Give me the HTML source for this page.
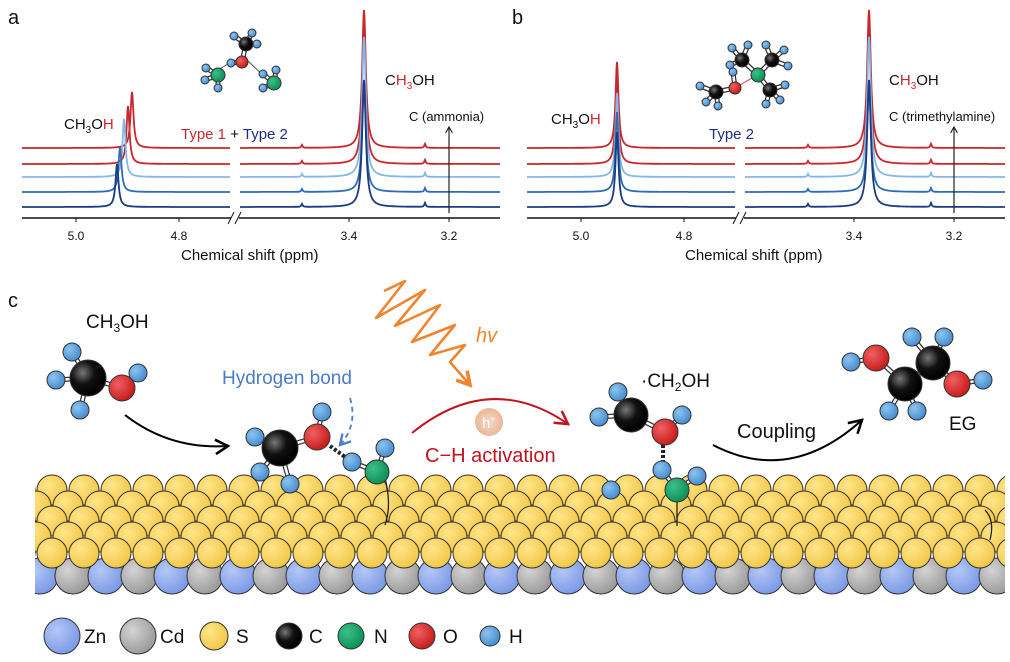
<!DOCTYPE html>
<html><head><meta charset="utf-8"><style>
body{margin:0;background:#fff}
svg{display:block;font-family:"Liberation Sans",Arial,sans-serif}
</style></head><body>
<svg id="s" width="1010" height="662" viewBox="0 0 1010 662" xmlns="http://www.w3.org/2000/svg">
<defs>
<radialGradient id="gC" cx="35%" cy="35%" r="65%"><stop offset="0" stop-color="#777"/><stop offset=".5" stop-color="#111"/><stop offset="1" stop-color="#000"/></radialGradient>
<radialGradient id="gO" cx="35%" cy="35%" r="65%"><stop offset="0" stop-color="#f06060"/><stop offset="1" stop-color="#c81e1e"/></radialGradient>
<radialGradient id="gH" cx="35%" cy="35%" r="65%"><stop offset="0" stop-color="#8cc4f0"/><stop offset="1" stop-color="#4a8fd0"/></radialGradient>
<radialGradient id="gN" cx="35%" cy="35%" r="65%"><stop offset="0" stop-color="#3cc08a"/><stop offset="1" stop-color="#0e9058"/></radialGradient>
<radialGradient id="gS" cx="35%" cy="35%" r="65%"><stop offset="0" stop-color="#ffe58a"/><stop offset="1" stop-color="#f2c94a"/></radialGradient>
<radialGradient id="gZ" cx="35%" cy="35%" r="65%"><stop offset="0" stop-color="#b4c8f6"/><stop offset="1" stop-color="#7e9be6"/></radialGradient>
<radialGradient id="gD" cx="35%" cy="35%" r="65%"><stop offset="0" stop-color="#d4d4d4"/><stop offset="1" stop-color="#9c9c9c"/></radialGradient>
<radialGradient id="gP" cx="50%" cy="50%" r="50%"><stop offset="0" stop-color="#f6d8c4"/><stop offset="1" stop-color="#eab898"/></radialGradient>
<marker id="ab" viewBox="0 0 10 10" refX="8" refY="5" markerWidth="9" markerHeight="9" orient="auto"><path d="M1,1L8,5L1,9" fill="none" stroke="#000" stroke-width="1.4"/></marker>
<marker id="ar" viewBox="0 0 10 10" refX="8" refY="5" markerWidth="9" markerHeight="9" orient="auto"><path d="M1,1L8,5L1,9" fill="none" stroke="#c0141e" stroke-width="1.4"/></marker>
<marker id="ao" viewBox="0 0 10 10" refX="8" refY="5" markerWidth="7" markerHeight="7" orient="auto"><path d="M1,1L8,5L1,9" fill="none" stroke="#ee8530" stroke-width="2"/></marker>
<marker id="abl" viewBox="0 0 10 10" refX="8" refY="5" markerWidth="8" markerHeight="8" orient="auto"><path d="M1,1L8,5L1,9" fill="none" stroke="#4a7cc9" stroke-width="1.6"/></marker>
<marker id="ak" viewBox="0 0 10 10" refX="8" refY="5" markerWidth="7" markerHeight="7" orient="auto"><path d="M1,1L8,5L1,9" fill="none" stroke="#222" stroke-width="1.4"/></marker>
<clipPath id="cl"><rect x="35" y="440" width="970" height="160"/></clipPath>
</defs>
<g id="surf" clip-path="url(#cl)"></g>
<g id="spec"></g>
<g id="mol"></g>
<g font-size="17" fill="#111">
<text x="8" y="24" font-size="20">a</text>
<text x="512" y="24" font-size="20">b</text>
<text x="8" y="307" font-size="20">c</text>
</g>
<g font-size="15" fill="#111">
<text x="64" y="129">CH<tspan font-size="10" dy="4">3</tspan><tspan dy="-4">O</tspan><tspan fill="#c8282d">H</tspan></text>
<text x="181" y="139" fill="#c8282d">Type 1 <tspan fill="#111">+</tspan> <tspan fill="#1b2f80">Type 2</tspan></text>
<text x="385" y="85">C<tspan fill="#c8282d">H<tspan font-size="10" dy="4">3</tspan></tspan><tspan dy="-4">OH</tspan></text>
<text x="409" y="121" font-size="13">C (ammonia)</text>
<text x="551" y="124">CH<tspan font-size="10" dy="4">3</tspan><tspan dy="-4">O</tspan><tspan fill="#c8282d">H</tspan></text>
<text x="709" y="139" fill="#1b2f80">Type 2</text>
<text x="889" y="85">C<tspan fill="#c8282d">H<tspan font-size="10" dy="4">3</tspan></tspan><tspan dy="-4">OH</tspan></text>
<text x="889" y="121" font-size="13">C (trimethylamine)</text>
<text x="181" y="260">Chemical shift (ppm)</text>
<text x="685" y="260">Chemical shift (ppm)</text>
<g font-size="12" text-anchor="middle"><text x="76" y="240">5.0</text><text x="179" y="240">4.8</text><text x="349" y="240">3.4</text><text x="449" y="240">3.2</text>
<text x="581" y="240">5.0</text><text x="684" y="240">4.8</text><text x="854" y="240">3.4</text><text x="954" y="240">3.2</text></g>
</g>
<g font-size="19">
<text x="86" y="328" fill="#111">CH<tspan font-size="12" dy="4">3</tspan><tspan dy="-4">OH</tspan></text>
<text x="222" y="384" fill="#4a7cc9">Hydrogen bond</text>
<text x="476" y="342" fill="#ee8530" font-style="italic" font-size="20">hv</text>
<text x="425" y="462" fill="#c0141e" font-size="20">C−H activation</text>
<text x="641" y="387" fill="#111">·CH<tspan font-size="12" dy="4">2</tspan><tspan dy="-4">OH</tspan></text>
<text x="737" y="438" fill="#111" font-size="20">Coupling</text>
<text x="949" y="430" fill="#111">EG</text>
</g>
<g font-size="19" fill="#111">
<text x="84" y="643">Zn</text><text x="160" y="643">Cd</text><text x="236" y="643">S</text><text x="309" y="643">C</text><text x="374" y="643">N</text><text x="443" y="643">O</text><text x="509" y="643">H</text>
</g>
</svg>
<script>
var NS='http://www.w3.org/2000/svg';
function add(g,html){document.getElementById(g).insertAdjacentHTML('beforeend',html);}
function circ(x,y,r,f){return '<circle cx="'+x+'" cy="'+y+'" r="'+r+'" fill="url(#'+f+')" stroke="#333" stroke-width="1"/>';}
// surface
var s='';
for(var i=0;i<32;i++){s+=circ(40+i*33,576,18,i%2?'gD':'gZ');}
var rows=[490,506,521,537,553];
rows.forEach(function(y,k){var off=(k%2)?16:0;for(var x=20+off;x<1030;x+=32)s+=circ(x,y,15,'gS');});
add('surf',s);
// spectra
function spec(x0,x1,base,col,peaks){var d='';var first=true;for(var x=x0;x<=x1;x+=0.5){var y=base;peaks.forEach(function(p){y-=p[1]/(1+Math.pow((x-p[0])/p[2],2));});d+=(first?'M':'L')+x.toFixed(1)+','+y.toFixed(1);first=false;}return '<path d="'+d+'" fill="none" stroke="'+col+'" stroke-width="1.8"/>';}
var cols=['#c8282d','#c8282d','#85b8e6','#2e6db0','#1b3c80'];
var bases=[148,164,177,192,207];
var A='';
var lpA=[132,128,124,120,117],lhA=[56,58,58,45,43];
var rhA=[138,140,140,110,127];
for(var k=0;k<5;k++){
 A+=spec(22,230,bases[k],cols[k],[[lpA[k],lhA[k],1.8]]);
 A+=spec(240,500,bases[k],cols[k],[[364,rhA[k],2.2],[302,3,0.8],[425,4,0.8]]);
 A+=spec(527,735,bases[k],cols[k],[[617,[86,90,84,80,75][k],1.8]]);
 A+=spec(745,1005,bases[k],cols[k],[[869,rhA[k],2.2],[808,3,0.8],[931,4,0.8]]);
}
A+='<path d="M22,218H500M527,218H1005" stroke="#111" stroke-width="1.5"/>';
[76,179,349,449,581,684,854,954].forEach(function(x){A+='<path d="M'+x+',218v4" stroke="#111"/>';});
A+='<rect x="231" y="210" width="8" height="16" fill="#fff"/><path d="M228,224L234,212M235,224L241,212" stroke="#111"/>';
A+='<rect x="736" y="210" width="8" height="16" fill="#fff"/><path d="M733,224L739,212M740,224L746,212" stroke="#111"/>';
A+='<path d="M449,213V127" stroke="#222" stroke-width="1.2" marker-end="url(#ak)"/><path d="M954,213V127" stroke="#222" stroke-width="1.2" marker-end="url(#ak)"/>';
add('spec',A);
// molecules
function bond(a,b){return '<line x1="'+a[0]+'" y1="'+a[1]+'" x2="'+b[0]+'" y2="'+b[1]+'" stroke="#333" stroke-width="5"/><line x1="'+a[0]+'" y1="'+a[1]+'" x2="'+b[0]+'" y2="'+b[1]+'" stroke="#fff" stroke-width="2.5"/>';}
function mol(atoms,bonds){var o='';bonds.forEach(function(b){o+=bond(atoms[b[0]],atoms[b[1]]);});atoms.forEach(function(a){o+=circ(a[0],a[1],a[2],a[3]);});return o;}
function thin(a,b,c){return '<line x1="'+a[0]+'" y1="'+a[1]+'" x2="'+b[0]+'" y2="'+b[1]+'" stroke="'+(c||'#555')+'" stroke-width="1"/>';}
var M='';
// arrows/curves
M+='<path d="M125,415Q170,450 228,446" fill="none" stroke="#000" stroke-width="2" marker-end="url(#ab)"/>';
M+='<path d="M350,398Q358,425 340,445" fill="none" stroke="#4a7cc9" stroke-width="1.8" stroke-dasharray="5,4" marker-end="url(#abl)"/>';
M+='<path d="M384,291L405,281L376,318L425,290L395,326L440,305L412,342L455,325L430,355L465,345L450,362L470,385" fill="none" stroke="#ee8530" stroke-width="2.6" stroke-linejoin="round" marker-end="url(#ao)"/>';
M+='<path d="M412,433Q490,370 568,424" fill="none" stroke="#c0141e" stroke-width="2" marker-end="url(#ar)"/>';
M+='<circle cx="489" cy="422" r="14" fill="url(#gP)"/><text x="482" y="428" font-size="15" fill="#fff">h<tspan font-size="9" dy="-6">+</tspan></text>';
M+='<path d="M713,445Q790,485 862,420" fill="none" stroke="#000" stroke-width="2" marker-end="url(#ab)"/>';
M+='<path d="M385,478Q392,505 385,525" fill="none" stroke="#222" stroke-width="1.3"/><path d="M677,495V526" stroke="#222" stroke-width="1.3"/><path d="M985,510Q995,520 990,540" fill="none" stroke="#222" stroke-width="1.3"/>';
// mol1 CH3OH
M+=mol([[88,378,18,'gC'],[122,388,13,'gO'],[72,352,9,'gH'],[56,380,9,'gH'],[80,410,9,'gH'],[138,373,9,'gH']],[[0,1],[0,2],[0,3],[0,4],[1,5]]);
// mol2
M+='<line x1="330" y1="446" x2="352" y2="462" stroke="#222" stroke-width="4" stroke-dasharray="3,2"/>';
M+=mol([[377,472,12,'gN'],[352,462,9,'gH'],[385,448,9,'gH']],[[0,1],[0,2]]);
M+=mol([[280,448,18,'gC'],[317,437,13,'gO'],[322,412,9,'gH'],[255,437,9,'gH'],[260,472,9,'gH'],[290,484,9,'gH']],[[0,1],[0,3],[0,4],[0,5],[1,2]]);
// mol3
M+='<line x1="663" y1="440" x2="663" y2="470" stroke="#222" stroke-width="4" stroke-dasharray="3,2"/>';
M+=mol([[677,490,12,'gN'],[662,470,9,'gH'],[697,476,9,'gH'],[611,490,9,'gH']],[[0,1],[0,2]]);
M+=mol([[631,415,17,'gC'],[665,432,13,'gO'],[618,392,9,'gH'],[599,417,9,'gH'],[682,415,9,'gH']],[[0,1],[0,2],[0,3],[1,4]]);
// EG
M+=mol([[905,384,17,'gC'],[933,363,17,'gC'],[876,358,13,'gO'],[957,384,13,'gO'],[851,362,9,'gH'],[912,337,9,'gH'],[944,337,9,'gH'],[983,380,9,'gH'],[889,411,9,'gH'],[917,411,9,'gH']],[[0,1],[0,2],[1,3],[2,4],[1,5],[1,6],[3,7],[0,8],[0,9]]);
// inset a
M+=thin([231,62],[218,70])+thin([247,60],[270,82]);
M+=mol([[246,44,7,'gC'],[242,62,6,'gO'],[234,36,4,'gH'],[252,33,4,'gH'],[257,44,4,'gH'],[231,63,4,'gH'],[218,75,7,'gN'],[206,68,4,'gH'],[205,80,4,'gH'],[218,88,4,'gH'],[274,83,7,'gN'],[263,74,4,'gH'],[276,70,4,'gH'],[263,88,4,'gH']],[[0,1],[0,2],[0,3],[0,4],[1,5],[6,7],[6,8],[6,9],[10,11],[10,12],[10,13]]);
// inset b
var b=[[758,75,7,'gN'],[742,60,7,'gC'],[772,60,7,'gC'],[770,90,7,'gC'],[735,88,6,'gO'],[716,92,7,'gC'],[732,48,4,'gH'],[748,45,4,'gH'],[730,65,4,'gH'],[766,45,4,'gH'],[784,50,4,'gH'],[788,66,4,'gH'],[766,104,4,'gH'],[780,100,4,'gH'],[785,85,4,'gH'],[700,86,4,'gH'],[706,102,4,'gH'],[718,106,4,'gH'],[733,72,4,'gH']];
M+=thin([740,85],[752,78],'#c33');
M+=mol(b,[[0,1],[0,2],[0,3],[4,5],[1,6],[1,7],[1,8],[2,9],[2,10],[2,11],[3,12],[3,13],[3,14],[5,15],[5,16],[5,17],[4,18]]);
// legend
M+=circ(62,636,18,'gZ')+circ(138,636,18,'gD')+circ(214,636,14,'gS')+circ(289,636,13,'gC')+circ(351,636,13,'gN')+circ(422,636,13,'gO')+circ(490,636,10,'gH');
add('mol',M);
</script>
</body></html>
